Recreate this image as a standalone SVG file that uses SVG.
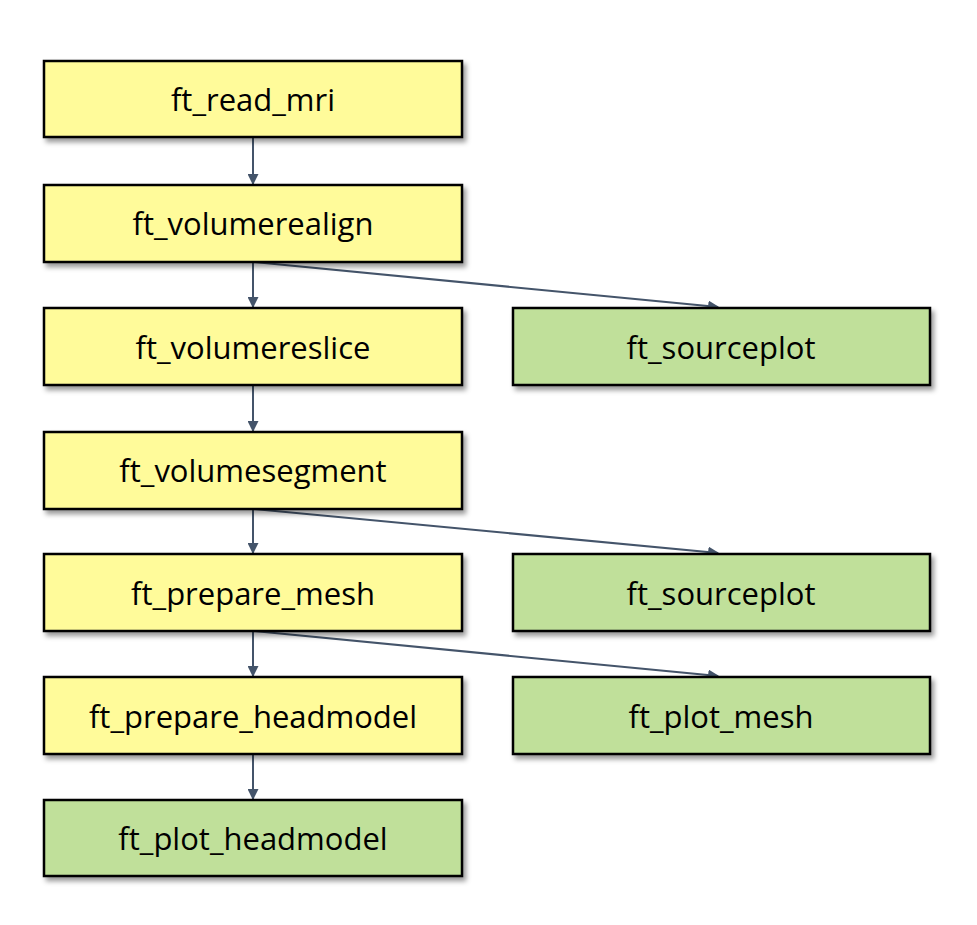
<svg xmlns="http://www.w3.org/2000/svg" width="977" height="925" viewBox="0 0 977 925">
<style>
.box{stroke:#000;stroke-width:2.5;filter:url(#sh)}
.y{fill:#FFFB9A}
.g{fill:#C0E09A}
text{font-family:"Open Sans","Liberation Sans",sans-serif;font-size:31px;text-anchor:middle;fill:#000}
.c{stroke:#44546A;stroke-width:2;fill:none;marker-end:url(#ah)}
</style>
<defs>
<filter id="sh" x="-5%" y="-10%" width="115%" height="130%">
<feDropShadow dx="3" dy="4" stdDeviation="2.5" flood-color="#000" flood-opacity="0.4"/>
</filter>
<marker id="ah" viewBox="0 0 10 10" refX="9" refY="5" markerWidth="11" markerHeight="11" orient="auto" markerUnits="userSpaceOnUse">
<path d="M0,0 L10,5 L0,10 Z" fill="#44546A"/>
</marker>
</defs>
<g id="connectors">
<line class="c" x1="253" y1="137" x2="253" y2="184"/>
<line class="c" x1="253" y1="262" x2="253" y2="307"/>
<line class="c" x1="253" y1="385" x2="253" y2="431"/>
<line class="c" x1="253" y1="509" x2="253" y2="553"/>
<line class="c" x1="253" y1="631" x2="253" y2="676"/>
<line class="c" x1="253" y1="754" x2="253" y2="799"/>
<line class="c" x1="253" y1="262" x2="718" y2="307"/>
<line class="c" x1="253" y1="509" x2="718" y2="553"/>
<line class="c" x1="253" y1="631" x2="718" y2="676"/>
</g>
<g id="n1"><rect class="box y" x="44" y="61" width="418" height="76"/><text x="253" y="111">ft_read_mri</text></g>
<g id="n2"><rect class="box y" x="44" y="185" width="418" height="77"/><text x="253" y="235">ft_volumerealign</text></g>
<g id="n3"><rect class="box y" x="44" y="308" width="418" height="77"/><text x="253" y="359">ft_volumereslice</text></g>
<g id="n4"><rect class="box y" x="44" y="432" width="418" height="77"/><text x="253" y="482">ft_volumesegment</text></g>
<g id="n5"><rect class="box y" x="44" y="554" width="418" height="77"/><text x="253" y="605">ft_prepare_mesh</text></g>
<g id="n6"><rect class="box y" x="44" y="677" width="418" height="77"/><text x="253" y="728">ft_prepare_headmodel</text></g>
<g id="n7"><rect class="box g" x="44" y="800" width="418" height="76"/><text x="253" y="850">ft_plot_headmodel</text></g>
<g id="n8"><rect class="box g" x="513" y="308" width="417" height="77"/><text x="721" y="359">ft_sourceplot</text></g>
<g id="n9"><rect class="box g" x="513" y="554" width="417" height="77"/><text x="721" y="605">ft_sourceplot</text></g>
<g id="n10"><rect class="box g" x="513" y="677" width="417" height="77"/><text x="721" y="728">ft_plot_mesh</text></g>
</svg>
